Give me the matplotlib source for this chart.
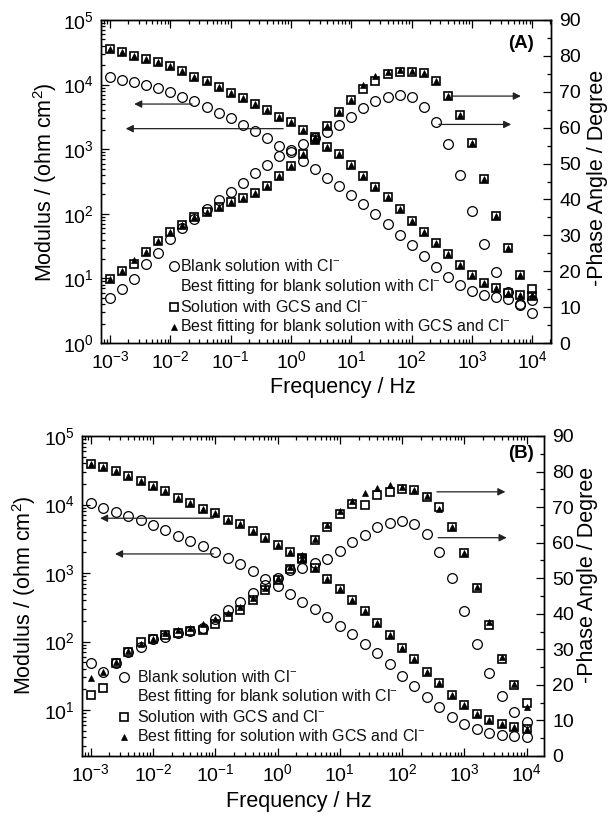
import matplotlib
matplotlib.use('Agg')
import matplotlib.pyplot as plt
from matplotlib.ticker import (LogLocator, MultipleLocator, NullFormatter,
                               FixedLocator, LogFormatterSciNotation)

plt.rcParams['font.family'] = ['Liberation Sans', 'DejaVu Sans']
plt.rcParams['mathtext.fontset'] = 'custom'
plt.rcParams['mathtext.rm'] = 'Liberation Sans'
plt.rcParams['mathtext.it'] = 'Liberation Sans:italic'
plt.rcParams['mathtext.bf'] = 'Liberation Sans:bold'

# ---------------- data ----------------
freq_hz = [1.00e-3, 1.58e-3, 2.51e-3, 3.98e-3, 6.31e-3,
           1.00e-2, 1.58e-2, 2.51e-2, 3.98e-2, 6.31e-2,
           1.00e-1, 1.58e-1, 2.51e-1, 3.98e-1, 6.31e-1,
           1.00e0, 1.58e0, 2.51e0, 3.98e0, 6.31e0,
           1.00e1, 1.58e1, 2.51e1, 3.98e1, 6.31e1,
           1.00e2, 1.58e2, 2.51e2, 3.98e2, 6.31e2,
           1.00e3, 1.58e3, 2.51e3, 3.98e3, 6.31e3,
           1.00e4]

x_decades = [1e-3, 1e-2, 1e-1, 1e0, 1e1, 1e2, 1e3, 1e4]
y_decades_a = [1e0, 1e1, 1e2, 1e3, 1e4, 1e5]
y_decades_b = [1e1, 1e2, 1e3, 1e4, 1e5]

# Panel A
a_blank_mod = [12900, 11700, 11000, 9770, 8910, 7760, 6460, 5500, 4470, 3630,
               3020, 2400, 1910, 1480, 1120, 912, 661, 490, 363, 269,
               195, 141, 97.7, 69.2, 46.8, 32.4, 21.9, 15.1, 10.7, 7.94,
               6.46, 5.50, 5.13, 4.79, 3.89, 2.88]
a_blank_phase = [12.5, 15.0, 17.7, 21.9, 25.2, 29.1, 32.0, 34.5, 37.3, 39.8,
                 42.0, 44.7, 47.3, 49.7, 52.0, 53.8, 55.5, 57.2, 58.9, 60.8,
                 63.1, 65.4, 67.3, 68.6, 69.1, 68.5, 65.8, 61.7, 55.4, 46.8,
                 36.8, 27.5, 19.9, 14.3, 11.0, 12.0]
a_gcs_mod = [35500, 32400, 28200, 25100, 22400, 19500, 16200, 13200, 11200, 9120,
             7410, 6170, 5010, 4070, 3160, 2630, 2000, 1410, 1100, 832,
             562, 389, 263, 182, 117, 77.6, 52.5, 35.5, 24.0, 16.2,
             11.2, 8.51, 7.08, 5.89, 5.50, 5.25]
a_gcs_phase = [17.8, 20.1, 21.9, 25.4, 28.4, 30.8, 32.9, 35.2, 36.6, 37.8,
               39.3, 40.3, 41.8, 43.8, 46.5, 49.3, 52.6, 57.5, 60.6, 64.3,
               67.8, 70.8, 73.0, 74.9, 75.6, 75.6, 75.1, 73.0, 68.9, 63.5,
               55.6, 45.6, 35.4, 26.4, 18.9, 15.0]
a_gcs_fit_mod = [35500, 32400, 28200, 25100, 22400, 19500, 16200, 13200, 11200, 9120,
                 7410, 6170, 5010, 4070, 3160, 2630, 2000, 1410, 1100, 832,
                 562, 389, 263, 182, 117, 77.6, 52.5, 35.5, 24.0, 16.2,
                 11.2, 8.51, 7.08, 5.89, 5.50, 5.25]
a_gcs_fit_phase = [17.8, 20.1, 23.1, 25.4, 28.4, 30.8, 32.9, 35.2, 36.6, 37.8,
                   39.3, 40.3, 41.8, 43.8, 46.5, 49.3, 52.6, 57.5, 60.6, 64.3,
                   67.8, 71.8, 74.5, 75.5, 76.0, 75.9, 75.1, 73.0, 68.9, 63.5,
                   55.6, 45.6, 35.4, 26.4, 18.9, 13.5]

# Panel B
b_blank_mod = [10500, 8910, 7760, 6760, 5890, 5010, 4270, 3470, 2950, 2510,
               2040, 1660, 1350, 1070, 832, 646, 501, 380, 295, 229,
               170, 129, 93.3, 67.6, 46.8, 31.6, 22.4, 15.5, 11.0, 7.94,
               6.31, 5.37, 4.68, 4.27, 4.17, 4.07]
b_blank_phase = [26.2, 23.7, 26.1, 29.2, 30.7, 32.9, 33.5, 34.5, 35.2, 36.1,
                 38.4, 41.1, 43.2, 45.8, 48.0, 50.0, 52.3, 53.0, 54.2, 55.5,
                 57.6, 60.2, 62.1, 64.5, 65.6, 66.2, 65.2, 62.4, 57.5, 50.1,
                 40.8, 31.4, 23.3, 16.9, 12.5, 9.6]
b_gcs_mod = [38900, 34700, 30900, 25700, 21900, 18600, 15500, 12600, 10500, 8710,
             7410, 6030, 5130, 4070, 3240, 2570, 2000, 1580, 1170, 813,
             589, 398, 275, 186, 126, 81.3, 55.0, 36.3, 24.5, 16.6,
             12.0, 8.91, 7.24, 6.17, 5.75, 5.37]
b_gcs_phase = [17.2, 19.2, 26.1, 29.2, 32.2, 32.8, 34.0, 34.7, 35.2, 35.4,
               37.2, 39.2, 41.1, 43.9, 46.7, 49.5, 52.5, 55.6, 60.7, 64.5,
               68.2, 70.8, 70.5, 73.4, 74.3, 75.0, 74.8, 72.9, 69.9, 64.5,
               57.0, 47.2, 36.8, 27.2, 20.0, 15.0]
b_gcs_fit_mod = [38900, 34700, 30900, 25700, 21900, 18600, 15500, 12600, 10500, 8710,
                 7410, 6030, 5130, 4070, 3240, 2570, 2000, 1580, 1170, 813,
                 589, 398, 275, 186, 126, 81.3, 55.0, 36.3, 24.5, 16.6,
                 12.0, 8.91, 7.24, 6.17, 5.75, 5.37]
b_gcs_fit_phase = [21.9, 23.7, 26.5, 29.5, 31.5, 33.0, 34.5, 35.3, 36.1, 37.0,
                   38.5, 40.1, 41.8, 44.3, 47.2, 50.0, 53.2, 56.4, 60.9, 65.0,
                   68.8, 71.8, 74.1, 75.3, 76.2, 75.6, 74.8, 73.0, 69.6, 64.5,
                   57.0, 47.5, 37.8, 27.8, 20.2, 13.9]

legend_a = ['Blank solution with Cl$^{-}$',
            'Best fitting for blank solution with Cl$^{-}$',
            'Solution with GCS and Cl$^{-}$',
            'Best fitting for blank solution with GCS and Cl$^{-}$']
legend_b = ['Blank solution with Cl$^{-}$',
            'Best fitting for blank solution with Cl$^{-}$',
            'Solution with GCS and Cl$^{-}$',
            'Best fitting for solution with GCS and Cl$^{-}$']

W, H = 608, 816
fig = plt.figure(figsize=(W / 100, H / 100), dpi=100)

TICK_FS = 14
LABEL_FS = 15.5
LEG_FS = 11.5

circ = dict(marker='o', ms=7, mfc='none', mec='black', mew=0.9, ls='none')
sq = dict(marker='s', ms=6.3, mfc='none', mec='black', mew=1.2, ls='none')
tri = dict(marker='^', ms=4.8, mfc='black', mec='black', mew=0.5, ls='none')


def px_axes(l, t, r, b):
    return fig.add_axes([l / W, 1 - b / H, (r - l) / W, (b - t) / H])


def style(ax, ax2, xlim, ylim, ydec):
    ax.set_xscale('log')
    ax.set_yscale('log')
    ax.set_xlim(*xlim)
    ax.set_ylim(*ylim)
    ax2.set_ylim(0, 90)
    ax.xaxis.set_major_locator(FixedLocator(x_decades))
    ax.xaxis.set_major_formatter(LogFormatterSciNotation())
    ax.xaxis.set_minor_locator(LogLocator(base=10, subs=range(2, 10), numticks=20))
    ax.xaxis.set_minor_formatter(NullFormatter())
    ax.yaxis.set_major_locator(FixedLocator(ydec))
    ax.yaxis.set_major_formatter(LogFormatterSciNotation())
    ax.yaxis.set_minor_locator(LogLocator(base=10, subs=range(2, 10), numticks=20))
    ax.yaxis.set_minor_formatter(NullFormatter())
    ax2.yaxis.set_major_locator(MultipleLocator(10))
    ax2.yaxis.set_minor_locator(MultipleLocator(5))
    ax.tick_params(which='both', direction='in', top=True, right=False,
                   labelsize=TICK_FS, width=0.9)
    ax.tick_params(which='major', length=6, pad=5)
    ax.tick_params(which='minor', length=3)
    ax2.tick_params(which='both', direction='in', labelsize=TICK_FS, width=0.9)
    ax2.tick_params(which='major', length=6, pad=6)
    ax2.tick_params(which='minor', length=3)
    for a in (ax, ax2):
        for s in a.spines.values():
            s.set_linewidth(1.0)


def arrow(ax, x0, y0, x1, y1):
    ax.annotate('', xy=(x1, y1), xytext=(x0, y0),
                arrowprops=dict(arrowstyle='-|>', lw=0.9, color='#222222',
                                mutation_scale=11, shrinkA=0, shrinkB=0))


def legend(ax, labels, mx, tx, ys, rect):
    l, t, r, b = rect
    fx = lambda p: (p - l) / (r - l)
    fy = lambda p: (b - p) / (b - t)
    styles = [circ, None, sq, tri]
    for lab, y, st in zip(labels, ys, styles):
        if st is not None:
            ax.plot([fx(mx)], [fy(y)], transform=ax.transAxes, clip_on=False, **st)
        ax.text(fx(tx), fy(y), lab, transform=ax.transAxes, fontsize=LEG_FS,
                ha='left', va='center', color='#111111')


# ---------------- Panel A ----------------
rectA = (101, 20, 551, 343)
axA = px_axes(*rectA)
axA2 = axA.twinx()
style(axA, axA2, (10 ** -3.15, 10 ** 4.31), (1, 1e5), y_decades_a)
axA.plot(freq_hz, a_blank_mod, **circ)
axA.plot(freq_hz, a_gcs_mod, **sq)
axA.plot(freq_hz, a_gcs_fit_mod, **tri)
axA2.plot(freq_hz, a_blank_phase, **circ)
axA2.plot(freq_hz, a_gcs_phase, **sq)
axA2.plot(freq_hz, a_gcs_fit_phase, **tri)
arrow(axA, 10 ** -1.64, 5000, 10 ** -2.6, 5000)
arrow(axA, 10 ** -0.13, 2080, 10 ** -2.74, 2080)
arrow(axA2, 10 ** 2.65, 68.8, 10 ** 3.81, 68.8)
arrow(axA2, 10 ** 2.45, 60.9, 10 ** 3.65, 60.9)
legend(axA, legend_a, 174, 180, [266, 286, 306.5, 326.5], rectA)
axA.text((521 - 101) / 450, (343 - 43) / 323, '(A)', transform=axA.transAxes,
         fontsize=13.5, fontweight='bold', ha='center', va='center')

fig.text(45 / W, 1 - 182 / H, 'Modulus / (ohm cm$^{2}$)', rotation=90,
         ha='center', va='center', fontsize=LABEL_FS)
fig.text(597 / W, 1 - 178 / H, '-Phase Angle / Degree', rotation=90,
         ha='center', va='center', fontsize=LABEL_FS)
fig.text(343 / W, 1 - 388 / H, 'Frequency / Hz', ha='center', va='center',
         fontsize=LABEL_FS)

# ---------------- Panel B ----------------
rectB = (82, 436, 544, 756)
axB = px_axes(*rectB)
axB2 = axB.twinx()
style(axB, axB2, (10 ** -3.14, 10 ** 4.28), (10 ** 0.33, 1e5), y_decades_b)
axB.plot(freq_hz, b_blank_mod, **circ)
axB.plot(freq_hz, b_gcs_mod, **sq)
axB.plot(freq_hz, b_gcs_fit_mod, **tri)
axB2.plot(freq_hz, b_blank_phase, **circ)
axB2.plot(freq_hz, b_gcs_phase, **sq)
axB2.plot(freq_hz, b_gcs_fit_phase, **tri)
arrow(axB, 10 ** -1.03, 6310, 10 ** -2.85, 6310)
arrow(axB, 10 ** -1.03, 1900, 10 ** -2.61, 1900)
arrow(axB2, 10 ** 2.56, 74.3, 10 ** 3.66, 74.3)
arrow(axB2, 10 ** 2.58, 61.4, 10 ** 3.68, 61.4)
legend(axB, legend_b, 124, 137, [676.5, 696.5, 717, 736.5], rectB)
axB.text((521 - 82) / 462, (756 - 453) / 320, '(B)', transform=axB.transAxes,
         fontsize=13.5, fontweight='bold', ha='center', va='center')

fig.text(24 / W, 1 - 595 / H, 'Modulus / (ohm cm$^{2}$)', rotation=90,
         ha='center', va='center', fontsize=LABEL_FS)
fig.text(588 / W, 1 - 575 / H, '-Phase Angle / Degree', rotation=90,
         ha='center', va='center', fontsize=LABEL_FS)
fig.text(299 / W, 1 - 802 / H, 'Frequency / Hz', ha='center', va='center',
         fontsize=LABEL_FS)

fig.savefig('out.png', dpi=100)
